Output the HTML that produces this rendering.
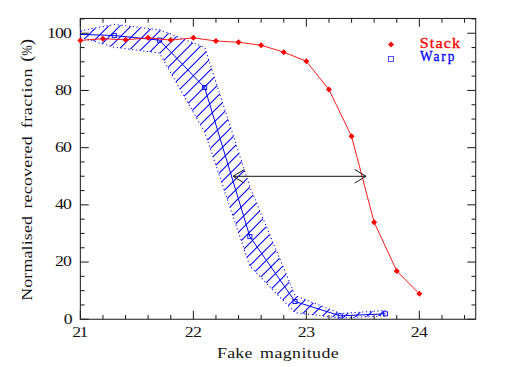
<!DOCTYPE html>
<html><head><meta charset="utf-8"><title>Recovered fraction</title>
<style>html,body{margin:0;padding:0;background:#fff;}svg{display:block;}text{font-family:"Liberation Serif",serif;}</style>
</head><body>
<svg width="519" height="367" viewBox="0 0 519 367">
<rect width="519" height="367" fill="#fff"/>
<g stroke="#222" stroke-width="1.05" fill="none">
<rect x="80.35" y="18.45" width="395.35" height="300.80"/>
<line x1="80.35" y1="319.25" x2="80.35" y2="310.85"/>
<line x1="80.35" y1="18.45" x2="80.35" y2="26.85"/>
<line x1="102.95" y1="319.25" x2="102.95" y2="315.05"/>
<line x1="102.95" y1="18.45" x2="102.95" y2="22.65"/>
<line x1="125.55" y1="319.25" x2="125.55" y2="315.05"/>
<line x1="125.55" y1="18.45" x2="125.55" y2="22.65"/>
<line x1="148.15" y1="319.25" x2="148.15" y2="315.05"/>
<line x1="148.15" y1="18.45" x2="148.15" y2="22.65"/>
<line x1="170.75" y1="319.25" x2="170.75" y2="315.05"/>
<line x1="170.75" y1="18.45" x2="170.75" y2="22.65"/>
<line x1="193.35" y1="319.25" x2="193.35" y2="310.85"/>
<line x1="193.35" y1="18.45" x2="193.35" y2="26.85"/>
<line x1="215.95" y1="319.25" x2="215.95" y2="315.05"/>
<line x1="215.95" y1="18.45" x2="215.95" y2="22.65"/>
<line x1="238.55" y1="319.25" x2="238.55" y2="315.05"/>
<line x1="238.55" y1="18.45" x2="238.55" y2="22.65"/>
<line x1="261.15" y1="319.25" x2="261.15" y2="315.05"/>
<line x1="261.15" y1="18.45" x2="261.15" y2="22.65"/>
<line x1="283.75" y1="319.25" x2="283.75" y2="315.05"/>
<line x1="283.75" y1="18.45" x2="283.75" y2="22.65"/>
<line x1="306.35" y1="319.25" x2="306.35" y2="310.85"/>
<line x1="306.35" y1="18.45" x2="306.35" y2="26.85"/>
<line x1="328.95" y1="319.25" x2="328.95" y2="315.05"/>
<line x1="328.95" y1="18.45" x2="328.95" y2="22.65"/>
<line x1="351.55" y1="319.25" x2="351.55" y2="315.05"/>
<line x1="351.55" y1="18.45" x2="351.55" y2="22.65"/>
<line x1="374.15" y1="319.25" x2="374.15" y2="315.05"/>
<line x1="374.15" y1="18.45" x2="374.15" y2="22.65"/>
<line x1="396.75" y1="319.25" x2="396.75" y2="315.05"/>
<line x1="396.75" y1="18.45" x2="396.75" y2="22.65"/>
<line x1="419.35" y1="319.25" x2="419.35" y2="310.85"/>
<line x1="419.35" y1="18.45" x2="419.35" y2="26.85"/>
<line x1="441.95" y1="319.25" x2="441.95" y2="315.05"/>
<line x1="441.95" y1="18.45" x2="441.95" y2="22.65"/>
<line x1="464.55" y1="319.25" x2="464.55" y2="315.05"/>
<line x1="464.55" y1="18.45" x2="464.55" y2="22.65"/>
<line x1="80.35" y1="319.25" x2="88.75" y2="319.25"/>
<line x1="475.7" y1="319.25" x2="467.3" y2="319.25"/>
<line x1="80.35" y1="304.95" x2="84.55" y2="304.95"/>
<line x1="475.7" y1="304.95" x2="471.5" y2="304.95"/>
<line x1="80.35" y1="290.65" x2="84.55" y2="290.65"/>
<line x1="475.7" y1="290.65" x2="471.5" y2="290.65"/>
<line x1="80.35" y1="276.35" x2="84.55" y2="276.35"/>
<line x1="475.7" y1="276.35" x2="471.5" y2="276.35"/>
<line x1="80.35" y1="262.05" x2="88.75" y2="262.05"/>
<line x1="475.7" y1="262.05" x2="467.3" y2="262.05"/>
<line x1="80.35" y1="247.75" x2="84.55" y2="247.75"/>
<line x1="475.7" y1="247.75" x2="471.5" y2="247.75"/>
<line x1="80.35" y1="233.45" x2="84.55" y2="233.45"/>
<line x1="475.7" y1="233.45" x2="471.5" y2="233.45"/>
<line x1="80.35" y1="219.15" x2="84.55" y2="219.15"/>
<line x1="475.7" y1="219.15" x2="471.5" y2="219.15"/>
<line x1="80.35" y1="204.85" x2="88.75" y2="204.85"/>
<line x1="475.7" y1="204.85" x2="467.3" y2="204.85"/>
<line x1="80.35" y1="190.55" x2="84.55" y2="190.55"/>
<line x1="475.7" y1="190.55" x2="471.5" y2="190.55"/>
<line x1="80.35" y1="176.25" x2="84.55" y2="176.25"/>
<line x1="475.7" y1="176.25" x2="471.5" y2="176.25"/>
<line x1="80.35" y1="161.95" x2="84.55" y2="161.95"/>
<line x1="475.7" y1="161.95" x2="471.5" y2="161.95"/>
<line x1="80.35" y1="147.65" x2="88.75" y2="147.65"/>
<line x1="475.7" y1="147.65" x2="467.3" y2="147.65"/>
<line x1="80.35" y1="133.35" x2="84.55" y2="133.35"/>
<line x1="475.7" y1="133.35" x2="471.5" y2="133.35"/>
<line x1="80.35" y1="119.05" x2="84.55" y2="119.05"/>
<line x1="475.7" y1="119.05" x2="471.5" y2="119.05"/>
<line x1="80.35" y1="104.75" x2="84.55" y2="104.75"/>
<line x1="475.7" y1="104.75" x2="471.5" y2="104.75"/>
<line x1="80.35" y1="90.45" x2="88.75" y2="90.45"/>
<line x1="475.7" y1="90.45" x2="467.3" y2="90.45"/>
<line x1="80.35" y1="76.15" x2="84.55" y2="76.15"/>
<line x1="475.7" y1="76.15" x2="471.5" y2="76.15"/>
<line x1="80.35" y1="61.85" x2="84.55" y2="61.85"/>
<line x1="475.7" y1="61.85" x2="471.5" y2="61.85"/>
<line x1="80.35" y1="47.55" x2="84.55" y2="47.55"/>
<line x1="475.7" y1="47.55" x2="471.5" y2="47.55"/>
<line x1="80.35" y1="33.25" x2="88.75" y2="33.25"/>
<line x1="475.7" y1="33.25" x2="467.3" y2="33.25"/>
<line x1="80.35" y1="18.95" x2="84.55" y2="18.95"/>
<line x1="475.7" y1="18.95" x2="471.5" y2="18.95"/>
</g>
<defs><clipPath id="band"><polygon points="80.35,30.96 114.25,24.38 159.45,29.82 204.65,47.26 249.85,186.83 295.05,295.51 340.25,313.53 385.45,310.38 385.45,315.82 340.25,318.11 295.05,312.67 249.85,266.05 204.65,131.92 159.45,52.98 114.25,47.26 80.35,37.25"/></clipPath></defs>
<g clip-path="url(#band)" stroke="#0000ff" stroke-width="1.05" fill="none">
<line x1="-511.75" y1="400" x2="-111.75" y2="0"/>
<line x1="-500.55" y1="400" x2="-100.55" y2="0"/>
<line x1="-489.35" y1="400" x2="-89.35" y2="0"/>
<line x1="-478.15" y1="400" x2="-78.15" y2="0"/>
<line x1="-466.95" y1="400" x2="-66.95" y2="0"/>
<line x1="-455.75" y1="400" x2="-55.75" y2="0"/>
<line x1="-444.55" y1="400" x2="-44.55" y2="0"/>
<line x1="-433.35" y1="400" x2="-33.35" y2="0"/>
<line x1="-422.15" y1="400" x2="-22.15" y2="0"/>
<line x1="-410.95" y1="400" x2="-10.95" y2="0"/>
<line x1="-399.75" y1="400" x2="0.25" y2="0"/>
<line x1="-388.55" y1="400" x2="11.45" y2="0"/>
<line x1="-377.35" y1="400" x2="22.65" y2="0"/>
<line x1="-366.15" y1="400" x2="33.85" y2="0"/>
<line x1="-354.95" y1="400" x2="45.05" y2="0"/>
<line x1="-343.75" y1="400" x2="56.25" y2="0"/>
<line x1="-332.55" y1="400" x2="67.45" y2="0"/>
<line x1="-321.35" y1="400" x2="78.65" y2="0"/>
<line x1="-310.15" y1="400" x2="89.85" y2="0"/>
<line x1="-298.95" y1="400" x2="101.05" y2="0"/>
<line x1="-287.75" y1="400" x2="112.25" y2="0"/>
<line x1="-276.55" y1="400" x2="123.45" y2="0"/>
<line x1="-265.35" y1="400" x2="134.65" y2="0"/>
<line x1="-254.15" y1="400" x2="145.85" y2="0"/>
<line x1="-242.95" y1="400" x2="157.05" y2="0"/>
<line x1="-231.75" y1="400" x2="168.25" y2="0"/>
<line x1="-220.55" y1="400" x2="179.45" y2="0"/>
<line x1="-209.35" y1="400" x2="190.65" y2="0"/>
<line x1="-198.15" y1="400" x2="201.85" y2="0"/>
<line x1="-186.95" y1="400" x2="213.05" y2="0"/>
<line x1="-175.75" y1="400" x2="224.25" y2="0"/>
<line x1="-164.55" y1="400" x2="235.45" y2="0"/>
<line x1="-153.35" y1="400" x2="246.65" y2="0"/>
<line x1="-142.15" y1="400" x2="257.85" y2="0"/>
<line x1="-130.95" y1="400" x2="269.05" y2="0"/>
<line x1="-119.75" y1="400" x2="280.25" y2="0"/>
<line x1="-108.55" y1="400" x2="291.45" y2="0"/>
<line x1="-97.35" y1="400" x2="302.65" y2="0"/>
<line x1="-86.15" y1="400" x2="313.85" y2="0"/>
<line x1="-74.95" y1="400" x2="325.05" y2="0"/>
<line x1="-63.75" y1="400" x2="336.25" y2="0"/>
<line x1="-52.55" y1="400" x2="347.45" y2="0"/>
<line x1="-41.35" y1="400" x2="358.65" y2="0"/>
<line x1="-30.15" y1="400" x2="369.85" y2="0"/>
<line x1="-18.95" y1="400" x2="381.05" y2="0"/>
<line x1="-7.75" y1="400" x2="392.25" y2="0"/>
<line x1="3.45" y1="400" x2="403.45" y2="0"/>
<line x1="14.65" y1="400" x2="414.65" y2="0"/>
<line x1="25.85" y1="400" x2="425.85" y2="0"/>
<line x1="37.05" y1="400" x2="437.05" y2="0"/>
<line x1="48.25" y1="400" x2="448.25" y2="0"/>
<line x1="59.45" y1="400" x2="459.45" y2="0"/>
<line x1="70.65" y1="400" x2="470.65" y2="0"/>
<line x1="81.85" y1="400" x2="481.85" y2="0"/>
<line x1="93.05" y1="400" x2="493.05" y2="0"/>
<line x1="104.25" y1="400" x2="504.25" y2="0"/>
<line x1="115.45" y1="400" x2="515.45" y2="0"/>
<line x1="126.65" y1="400" x2="526.65" y2="0"/>
<line x1="137.85" y1="400" x2="537.85" y2="0"/>
<line x1="149.05" y1="400" x2="549.05" y2="0"/>
<line x1="160.25" y1="400" x2="560.25" y2="0"/>
<line x1="171.45" y1="400" x2="571.45" y2="0"/>
<line x1="182.65" y1="400" x2="582.65" y2="0"/>
<line x1="193.85" y1="400" x2="593.85" y2="0"/>
<line x1="205.05" y1="400" x2="605.05" y2="0"/>
<line x1="216.25" y1="400" x2="616.25" y2="0"/>
<line x1="227.45" y1="400" x2="627.45" y2="0"/>
<line x1="238.65" y1="400" x2="638.65" y2="0"/>
<line x1="249.85" y1="400" x2="649.85" y2="0"/>
<line x1="261.05" y1="400" x2="661.05" y2="0"/>
<line x1="272.25" y1="400" x2="672.25" y2="0"/>
<line x1="283.45" y1="400" x2="683.45" y2="0"/>
<line x1="294.65" y1="400" x2="694.65" y2="0"/>
<line x1="305.85" y1="400" x2="705.85" y2="0"/>
<line x1="317.05" y1="400" x2="717.05" y2="0"/>
<line x1="328.25" y1="400" x2="728.25" y2="0"/>
<line x1="339.45" y1="400" x2="739.45" y2="0"/>
<line x1="350.65" y1="400" x2="750.65" y2="0"/>
<line x1="361.85" y1="400" x2="761.85" y2="0"/>
<line x1="373.05" y1="400" x2="773.05" y2="0"/>
<line x1="384.25" y1="400" x2="784.25" y2="0"/>
<line x1="395.45" y1="400" x2="795.45" y2="0"/>
</g>
<polyline points="80.35,30.96 114.25,24.38 159.45,29.82 204.65,47.26 249.85,186.83 295.05,295.51 340.25,313.53 385.45,310.38" fill="none" stroke="#0000ff" stroke-width="1.05" stroke-dasharray="1.1 2.7"/>
<polyline points="80.35,37.25 114.25,47.26 159.45,52.98 204.65,131.92 249.85,266.05 295.05,312.67 340.25,318.11 385.45,315.82" fill="none" stroke="#0000ff" stroke-width="1.05" stroke-dasharray="1.1 2.7"/>
<polyline points="80.35,34.39 114.25,35.54 159.45,40.11 204.65,87.59 249.85,236.60 295.05,301.52 340.25,315.82 385.45,313.82" fill="none" stroke="#0000ff" stroke-width="1.0"/>
<rect x="112.20" y="33.49" width="4.1" height="4.1" fill="none" stroke="#0000ff" stroke-width="0.9"/>
<rect x="157.40" y="38.06" width="4.1" height="4.1" fill="none" stroke="#0000ff" stroke-width="0.9"/>
<rect x="202.60" y="85.54" width="4.1" height="4.1" fill="none" stroke="#0000ff" stroke-width="0.9"/>
<rect x="247.80" y="234.55" width="4.1" height="4.1" fill="none" stroke="#0000ff" stroke-width="0.9"/>
<rect x="293.00" y="299.47" width="4.1" height="4.1" fill="none" stroke="#0000ff" stroke-width="0.9"/>
<rect x="338.20" y="313.77" width="4.1" height="4.1" fill="none" stroke="#0000ff" stroke-width="0.9"/>
<rect x="383.40" y="311.77" width="4.1" height="4.1" fill="none" stroke="#0000ff" stroke-width="0.9"/>
<polyline points="80.35,40.40 102.95,38.68 125.55,39.83 148.15,37.83 170.75,40.11 193.35,37.83 215.95,40.97 238.55,42.26 261.15,45.26 283.75,52.13 306.35,61.28 328.95,89.59 351.55,136.35 374.15,222.30 396.75,270.92 419.35,293.80" fill="none" stroke="#ff0000" stroke-width="0.9"/>
<polygon points="77.35,40.40 80.35,37.40 83.35,40.40 80.35,43.40" fill="#ff0000"/>
<polygon points="99.95,38.68 102.95,35.68 105.95,38.68 102.95,41.68" fill="#ff0000"/>
<polygon points="122.55,39.83 125.55,36.83 128.55,39.83 125.55,42.83" fill="#ff0000"/>
<polygon points="145.15,37.83 148.15,34.83 151.15,37.83 148.15,40.83" fill="#ff0000"/>
<polygon points="167.75,40.11 170.75,37.11 173.75,40.11 170.75,43.11" fill="#ff0000"/>
<polygon points="190.35,37.83 193.35,34.83 196.35,37.83 193.35,40.83" fill="#ff0000"/>
<polygon points="212.95,40.97 215.95,37.97 218.95,40.97 215.95,43.97" fill="#ff0000"/>
<polygon points="235.55,42.26 238.55,39.26 241.55,42.26 238.55,45.26" fill="#ff0000"/>
<polygon points="258.15,45.26 261.15,42.26 264.15,45.26 261.15,48.26" fill="#ff0000"/>
<polygon points="280.75,52.13 283.75,49.13 286.75,52.13 283.75,55.13" fill="#ff0000"/>
<polygon points="303.35,61.28 306.35,58.28 309.35,61.28 306.35,64.28" fill="#ff0000"/>
<polygon points="325.95,89.59 328.95,86.59 331.95,89.59 328.95,92.59" fill="#ff0000"/>
<polygon points="348.55,136.35 351.55,133.35 354.55,136.35 351.55,139.35" fill="#ff0000"/>
<polygon points="371.15,222.30 374.15,219.30 377.15,222.30 374.15,225.30" fill="#ff0000"/>
<polygon points="393.75,270.92 396.75,267.92 399.75,270.92 396.75,273.92" fill="#ff0000"/>
<polygon points="416.35,293.80 419.35,290.80 422.35,293.80 419.35,296.80" fill="#ff0000"/>
<g stroke="#151515" stroke-width="1.0" fill="none"><line x1="233.0" y1="176.3" x2="366.05" y2="176.3"/><polyline points="244.4,169.5 233.0,176.3 244.4,183.10000000000002"/><polyline points="354.65000000000003,169.5 366.05,176.3 354.65000000000003,183.10000000000002"/></g>
<text transform="translate(46.90,37.55) scale(1.27,1)" font-size="14" fill="#151515" textLength="19.69" lengthAdjust="spacing" word-spacing="0" >100</text>
<text transform="translate(54.90,94.75) scale(1.27,1)" font-size="14" fill="#151515" textLength="13.39" lengthAdjust="spacing" word-spacing="0" >80</text>
<text transform="translate(54.90,151.95) scale(1.27,1)" font-size="14" fill="#151515" textLength="13.39" lengthAdjust="spacing" word-spacing="0" >60</text>
<text transform="translate(54.90,209.15) scale(1.27,1)" font-size="14" fill="#151515" textLength="13.39" lengthAdjust="spacing" word-spacing="0" >40</text>
<text transform="translate(54.90,266.35) scale(1.27,1)" font-size="14" fill="#151515" textLength="13.39" lengthAdjust="spacing" word-spacing="0" >20</text>
<text transform="translate(63.70,323.55) scale(1.27,1)" font-size="14" fill="#151515" >0</text>
<text transform="translate(72.35,336.70) scale(1.27,1)" font-size="14" fill="#151515" textLength="12.60" lengthAdjust="spacing" word-spacing="0" >21</text>
<text transform="translate(184.85,336.70) scale(1.27,1)" font-size="14" fill="#151515" textLength="13.39" lengthAdjust="spacing" word-spacing="0" >22</text>
<text transform="translate(297.65,336.70) scale(1.27,1)" font-size="14" fill="#151515" textLength="13.70" lengthAdjust="spacing" word-spacing="0" >23</text>
<text transform="translate(410.75,336.70) scale(1.27,1)" font-size="14" fill="#151515" textLength="13.54" lengthAdjust="spacing" word-spacing="0" >24</text>
<text transform="translate(217.00,357.80) scale(1.28,1)" font-size="14" fill="#151515" textLength="27.73" lengthAdjust="spacing" word-spacing="0" >Fake</text>
<text transform="translate(260.10,357.80) scale(1.28,1)" font-size="14" fill="#151515" textLength="61.41" lengthAdjust="spacing" word-spacing="0" >magnitude</text>
<g transform="translate(31.7,298.8) rotate(-90)">
<text transform="translate(-2.00,0.00) scale(1.28,1)" font-size="14" fill="#151515" textLength="66.25" lengthAdjust="spacing" word-spacing="0" >Normalised</text>
<text transform="translate(90.20,0.00) scale(1.28,1)" font-size="14" fill="#151515" textLength="56.48" lengthAdjust="spacing" word-spacing="0" >recovered</text>
<text transform="translate(170.60,0.00) scale(1.28,1)" font-size="14" fill="#151515" textLength="46.56" lengthAdjust="spacing" word-spacing="0" >fraction</text>
<text transform="translate(237.10,0.00) scale(1.1,1)" font-size="17" fill="#151515" >(</text>
<text transform="translate(243.00,0.00) scale(0.9,1)" font-size="14" fill="#151515" >%</text>
<text transform="translate(253.60,0.00) scale(1.1,1)" font-size="17" fill="#151515" >)</text>
</g>
<text transform="translate(419.80,47.60) scale(1.15,1)" font-size="14" fill="#ff0000" textLength="34.96" lengthAdjust="spacing" word-spacing="0" stroke="#ff0000" stroke-width="0.3">Stack</text>
<text transform="translate(420.00,60.90) scale(0.95,1)" font-size="14" fill="#0000ff" textLength="36.11" lengthAdjust="spacing" word-spacing="0" stroke="#0000ff" stroke-width="0.3">Warp</text>
<polygon points="388.0,44.5 391.0,41.5 394.0,44.5 391.0,47.5" fill="#ff0000"/>
<rect x="388.5" y="56.4" width="5.0" height="5.0" fill="none" stroke="#0000ff" stroke-width="0.8" stroke-opacity="0.85"/>
</svg></body></html>
